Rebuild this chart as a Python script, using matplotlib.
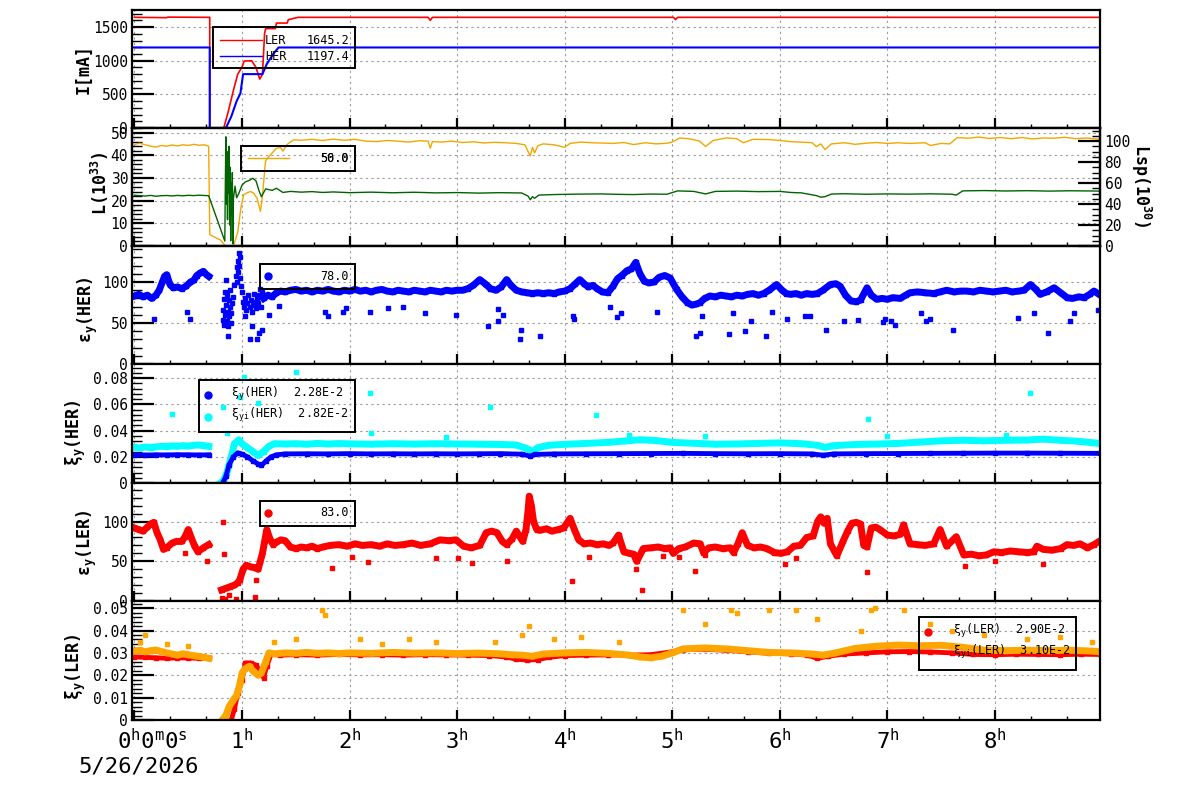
import numpy as np
import matplotlib
matplotlib.use("Agg")
import matplotlib.pyplot as plt
from matplotlib.ticker import MultipleLocator, FixedLocator
from matplotlib.patches import Rectangle
from matplotlib.lines import Line2D

nan = float('nan')

# ---------------- data (hours since 0h0m0s, 5/26/2026) ----------------
hour_ticks = [0, 1, 2, 3, 4, 5, 6, 7, 8]
hour_labels = ['', r'$\mathregular{1^h}$', r'$\mathregular{2^h}$', r'$\mathregular{3^h}$',
               r'$\mathregular{4^h}$', r'$\mathregular{5^h}$', r'$\mathregular{6^h}$',
               r'$\mathregular{7^h}$', r'$\mathregular{8^h}$']

# Panel 1: beam currents [mA]
ler_t = [0.00, 0.30, 0.31, 0.69, 0.70, 0.70, 0.83, 0.87, 0.92, 0.96, 1.00, 1.02, 1.09, 1.13, 1.165,
         1.19, 1.21, 1.22, 1.31, 1.32, 1.42, 1.43, 1.52, 2.73, 2.75, 2.77, 5.01, 5.03, 5.05, 8.98]
ler_i = [1645, 1640, 1648, 1645, 1645, 0, 0, 230, 560, 800, 905, 995, 1000, 900, 727,
         800, 1409, 1478, 1478, 1560, 1560, 1610, 1645, 1645, 1600, 1645, 1645, 1612, 1645, 1645]
her_t = [0.00, 0.70, 0.70, 0.85, 0.90, 0.95, 0.985, 1.01, 1.19, 1.23, 1.27, 1.30, 1.34, 8.98]
her_i = [1197, 1197, 0, 0, 170, 400, 515, 801, 801, 950, 1050, 1120, 1197, 1197]

# Panel 2: luminosity L (left axis) and specific luminosity Lsp (right axis)
lum_t = [0.00, 0.05, 0.10, 0.15, 0.20, 0.25, 0.30, 0.35, 0.40, 0.45, 0.50, 0.55, 0.60, 0.65, 0.69,
         0.70, 0.80, 0.846, 0.92, 0.96, 0.99, 1.016, 1.05, 1.08, 1.11, 1.14, 1.171, 1.19, 1.218,
         1.25, 1.29, 1.32, 1.357, 1.38, 1.42, 1.48, 1.55, 1.65, 1.75, 1.85, 1.95, 2.05, 2.15, 2.25,
         2.35, 2.45, 2.55, 2.65, 2.73, 2.75, 2.77, 2.85, 2.95, 3.05, 3.15, 3.25, 3.35, 3.45, 3.55,
         3.63, 3.66, 3.68, 3.70, 3.72, 3.75, 3.80, 3.90, 4.00, 4.05, 4.15, 4.25, 4.33, 4.45, 4.55,
         4.64, 4.75, 4.85, 4.95, 5.00, 5.07, 5.15, 5.25, 5.31, 5.38, 5.50, 5.60, 5.66, 5.75, 5.90,
         6.00, 6.10, 6.19, 6.30, 6.34, 6.38, 6.42, 6.48, 6.60, 6.70, 6.80, 6.90, 7.00, 7.10, 7.20,
         7.35, 7.40, 7.50, 7.58, 7.65, 7.75, 7.85, 7.95, 8.05, 8.15, 8.25, 8.35, 8.45, 8.55, 8.65,
         8.75, 8.85, 8.98]
lum_v = [44.8, 45.3, 44.6, 44.0, 43.6, 44.3, 44.0, 44.5, 44.1, 44.6, 44.3, 44.8, 44.4, 44.6, 43.9,
         5.0, 2.6, 0.0, 0.0, 6.0, 17.0, 22.6, 23.5, 24.0, 23.2, 21.0, 15.3, 22.0, 37.3,
         39.5, 41.5, 43.0, 43.5, 41.8, 44.8, 46.8, 46.6, 47.0, 46.5, 47.1, 46.6, 47.0, 46.2, 46.0,
         46.5, 46.2, 45.8, 46.4, 46.2, 43.1, 46.0, 45.8, 46.2, 45.6, 45.9, 45.4, 45.7, 45.5, 45.2,
         44.6, 41.5, 39.7, 43.5, 41.0, 44.2, 45.0, 44.6, 43.5, 45.2, 45.8, 45.5, 45.4, 45.2, 45.6,
         44.7, 45.5, 45.0, 45.3, 45.8, 47.6, 47.3, 46.3, 43.9, 46.5, 47.6, 47.3, 45.5, 47.0, 46.9,
         46.5, 46.0, 45.8, 45.5, 43.8, 45.0, 42.5, 45.0, 45.5, 44.8, 45.3, 45.6, 45.2, 45.5, 45.2,
         45.5, 44.3, 45.2, 45.0, 47.8, 47.5, 48.0, 47.4, 47.8, 47.3, 47.8, 47.2, 47.6, 47.5, 47.9,
         47.3, 47.6, 47.0]
lsp_t = [0.00, 0.05, 0.10, 0.15, 0.20, 0.25, 0.30, 0.35, 0.40, 0.45, 0.50, 0.55, 0.60, 0.65, 0.69,
         0.84, 0.845, 0.85, 0.855, 0.86, 0.865, 0.87, 0.875, 0.88, 0.885, 0.89, 0.895, 0.90, 0.905,
         0.91, 0.915, 0.92, 0.935, 0.95, 0.97, 1.00, 1.03, 1.07, 1.10, 1.13, 1.16, 1.18, 1.22, 1.28,
         1.32, 1.38, 1.45, 1.55, 1.65, 1.75, 1.85, 2.00, 2.20, 2.40, 2.60, 2.80, 3.00, 3.20, 3.40,
         3.60, 3.66, 3.68, 3.70, 3.72, 3.76, 3.90, 4.10, 4.33, 4.50, 4.64, 4.80, 4.95, 5.05, 5.20,
         5.31, 5.40, 5.60, 5.80, 6.00, 6.10, 6.20, 6.34, 6.38, 6.42, 6.48, 6.60, 6.80, 7.00, 7.20,
         7.40, 7.60, 7.64, 7.70, 7.90, 8.10, 8.30, 8.50, 8.70, 8.90, 8.98]
lsp_v = [48.3, 48.0, 47.6, 48.2, 47.4, 47.9, 48.1, 47.7, 48.2, 47.8, 48.3, 48.0, 48.4, 48.1, 47.9,
         4.7, 60, 104, 40, 90, 25, 80, 50, 95, 20, 75, 5, 60, 30,
         70, 2, 45, 57, 46, 50, 58, 61, 62.6, 64.5, 62, 52, 47, 54.4, 53,
         55, 51, 52, 51.3, 51.8, 51.0, 51.5, 50.8, 51.3, 50.7, 51.2, 50.6, 50.9, 50.4, 50.8,
         50.5, 47.5, 44.0, 47.0, 45.5, 48.5, 49.0, 49.4, 49.6, 49.2, 49.0, 49.5, 49.3, 52.5, 52.0,
         49.6, 52.0, 52.3, 51.8, 52.0, 51.0, 50.6, 48.0, 46.5, 47.0, 49.5, 49.8, 49.3, 49.6, 49.4,
         49.7, 49.3, 48.5, 52.5, 52.8, 52.4, 52.7, 52.3, 52.6, 52.4, 52.3]

# Panel 3: vertical emittance HER
hemit_t = [0.00, 0.04, 0.08, 0.12, 0.16, 0.20, 0.23, 0.26, 0.28, 0.30, 0.33, 0.36, 0.40, 0.44, 0.48,
           0.52, 0.55, 0.58, 0.61, 0.64, 0.67, 0.69, nan,
           1.20, 1.24, 1.28, 1.32, 1.36, 1.40, 1.45, 1.50, 1.55, 1.60, 1.65, 1.70, 1.75, 1.80, 1.85,
           1.90, 1.95, 2.00, 2.05, 2.10, 2.15, 2.20, 2.25, 2.30, 2.35, 2.40, 2.45, 2.50, 2.55, 2.60,
           2.65, 2.70, 2.75, 2.80, 2.85, 2.90, 2.95, 3.00, 3.05, 3.10, 3.15, 3.21, 3.26, 3.31, 3.36,
           3.41, 3.46, 3.50, 3.55, 3.60, 3.65, 3.70, 3.75, 3.80, 3.85, 3.90, 3.95, 4.00, 4.05, 4.10,
           4.14, 4.18, 4.22, 4.26, 4.30, 4.35, 4.40, 4.45, 4.49, 4.53, 4.58, 4.62, 4.66, 4.70, 4.74,
           4.78, 4.83, 4.88, 4.93, 4.98, 5.04, 5.09, 5.14, 5.18, 5.22, 5.26, 5.30, 5.35, 5.40, 5.45,
           5.50, 5.55, 5.60, 5.65, 5.70, 5.75, 5.80, 5.85, 5.90, 5.97, 6.02, 6.06, 6.10, 6.15, 6.20,
           6.25, 6.30, 6.35, 6.40, 6.47, 6.52, 6.56, 6.61, 6.66, 6.71, 6.75, 6.81, 6.85, 6.90, 6.95,
           7.00, 7.05, 7.12, 7.17, 7.21, 7.28, 7.35, 7.43, 7.49, 7.55, 7.62, 7.68, 7.74, 7.80, 7.86,
           7.92, 7.98, 8.04, 8.10, 8.16, 8.22, 8.27, 8.33, 8.38, 8.42, 8.48, 8.55, 8.61, 8.67, 8.72,
           8.78, 8.83, 8.88, 8.92, 8.98]
hemit_v = [83, 85, 82, 84, 80, 84, 90, 100, 107, 109, 97, 93, 94, 92, 95,
           100, 102, 108, 111, 113, 109, 107, nan,
           80, 84, 82, 87, 89, 88, 90, 91, 89, 90, 88, 90, 89, 91, 89,
           88, 90, 89, 91, 89, 90, 88, 90, 91, 89, 88, 90, 89, 88, 90,
           89, 88, 90, 89, 88, 90, 89, 90, 90, 92, 96, 103, 98, 92, 90,
           94, 103, 96, 90, 88, 87, 86, 87, 86, 87, 86, 88, 89, 92, 98,
           103, 98, 94, 96, 92, 88, 87, 95, 104, 108, 114, 116, 124, 110, 101,
           99, 100, 106, 108, 105, 91, 82, 75, 72, 73, 75, 80, 83, 82, 84,
           83, 82, 84, 83, 85, 86, 84, 86, 90, 97, 90, 86, 85, 86, 84,
           86, 85, 86, 90, 97, 98, 95, 84, 77, 76, 78, 93, 84, 79, 80,
           79, 81, 80, 84, 87, 88, 87, 86, 88, 90, 88, 89, 89, 88, 90,
           89, 88, 89, 90, 88, 89, 90, 97, 91, 85, 88, 93, 87, 81, 80,
           82, 81, 85, 89, 84]
hemit_ev_t = [0.82, 0.82, 0.83, 0.83, 0.84, 0.84, 0.85, 0.85, 0.86, 0.86, 0.87, 0.87, 0.88, 0.88,
              0.89, 0.89, 0.90, 0.90, 0.91, 0.92, 0.93, 0.94, 0.95, 0.95, 0.96, 0.96, 0.97, 0.97,
              0.98, 0.98, 0.99, 1.00, 1.01, 1.02, 1.03, 1.04, 1.05, 1.06, 1.07, 1.08, 1.09, 1.10,
              1.11, 1.12, 1.13, 1.14, 1.15, 1.16, 1.17, 1.18, 1.19]
hemit_ev_v = [66, 54, 79, 48, 88, 60, 72, 103, 52, 84, 64, 46, 78, 58,
              70, 90, 62, 50, 74, 82, 96, 108, 118, 100, 112, 126, 120, 136,
              130, 105, 95, 88, 76, 70, 80, 66, 74, 84, 70, 78, 64, 72,
              86, 76, 68, 80, 74, 84, 92, 70, 88]
hemit_out_t = [0.18, 0.49, 0.52, 0.87, 1.03, 1.07, 1.09, 1.14, 1.16, 1.19, 1.25, 1.34, 1.77, 1.80,
               1.94, 1.97, 2.19, 2.36, 2.50, 2.70, 2.99, 3.29, 3.38, 3.38, 3.43, 3.58, 3.59, 3.77,
               4.08, 4.09, 4.42, 4.49, 4.52, 4.86, 5.22, 5.26, 5.28, 5.53, 5.56, 5.68, 5.73, 5.87,
               5.93, 6.07, 6.23, 6.28, 6.43, 6.60, 6.73, 6.96, 6.98, 7.03, 7.07, 7.31, 7.36, 7.40,
               7.61, 8.21, 8.36, 8.49, 8.70, 8.73, 8.96]
hemit_out_v = [55, 63, 55, 34, 58, 31, 46, 31, 38, 42, 60, 71, 63, 59,
               64, 68, 63, 68, 70, 62, 60, 46, 67, 52, 60, 31, 41, 34,
               59, 55, 70, 57, 62, 63, 34, 38, 58, 37, 62, 40, 52, 34,
               63, 55, 59, 59, 42, 53, 54, 51, 55, 52, 47, 62, 52, 55,
               42, 56, 62, 38, 52, 62, 66]

# Panel 4: vertical beam-beam parameter HER
xih_t = [0.00, 0.10, 0.20, 0.30, 0.40, 0.50, 0.60, 0.69, nan, 0.82, 0.85, 0.88, 0.92, 0.96, 1.00,
         1.05, 1.10, 1.15, 1.18, 1.22, 1.27, 1.32, 1.40, 1.60, 1.80, 2.00, 2.20, 2.40, 2.60, 2.80,
         3.00, 3.20, 3.40, 3.60, 3.68, 3.72, 3.90, 4.20, 4.50, 4.80, 5.10, 5.40, 5.70, 6.00, 6.30,
         6.40, 6.50, 6.80, 7.10, 7.40, 7.70, 8.00, 8.30, 8.60, 8.98]
xih_v = [0.0215, 0.0213, 0.0215, 0.0214, 0.0216, 0.0215, 0.0214, 0.0215, nan, 0.000, 0.005, 0.014,
         0.020, 0.023, 0.022, 0.020, 0.017, 0.0145, 0.0135, 0.0165, 0.020, 0.0215, 0.0222, 0.0223,
         0.0222, 0.0224, 0.0222, 0.0223, 0.0222, 0.0223, 0.0222, 0.0223, 0.0224, 0.0220, 0.0205,
         0.0218, 0.0222, 0.0223, 0.0224, 0.0225, 0.0226, 0.0224, 0.0223, 0.0224, 0.0222, 0.0212,
         0.0222, 0.0224, 0.0225, 0.0226, 0.0227, 0.0228, 0.0228, 0.0227, 0.0226]
xihi_t = [0.00, 0.05, 0.10, 0.15, 0.20, 0.25, 0.30, 0.35, 0.40, 0.45, 0.50, 0.55, 0.60, 0.65, 0.69,
          nan, 0.80, 0.83, 0.86, 0.90, 0.93, 0.97, 1.00, 1.05, 1.10, 1.15, 1.20, 1.25, 1.30, 1.40,
          1.50, 1.60, 1.70, 1.80, 1.90, 2.00, 2.20, 2.40, 2.60, 2.80, 3.00, 3.20, 3.40, 3.55, 3.65,
          3.70, 3.75, 3.85, 4.00, 4.20, 4.40, 4.55, 4.70, 4.85, 5.00, 5.20, 5.40, 5.60, 5.80, 6.00,
          6.20, 6.35, 6.42, 6.50, 6.70, 6.90, 7.10, 7.30, 7.50, 7.70, 7.90, 8.10, 8.30, 8.45, 8.60,
          8.75, 8.90, 8.98]
xihi_v = [0.0272, 0.0268, 0.0275, 0.0270, 0.0276, 0.0280, 0.0278, 0.0283, 0.0280, 0.0285, 0.0282,
          0.0288, 0.0290, 0.0285, 0.0280, nan, 0.000, 0.002, 0.008, 0.020, 0.030, 0.033, 0.030,
          0.027, 0.024, 0.021, 0.024, 0.028, 0.030, 0.0298, 0.0300, 0.0296, 0.0302, 0.0298, 0.0301,
          0.0299, 0.0296, 0.0300, 0.0297, 0.0300, 0.0298, 0.0296, 0.0294, 0.0290, 0.0262, 0.0240,
          0.0270, 0.0288, 0.0295, 0.0302, 0.0310, 0.0320, 0.0330, 0.0324, 0.0310, 0.0303, 0.0296,
          0.0298, 0.0302, 0.0306, 0.0300, 0.0288, 0.0272, 0.0285, 0.0294, 0.0297, 0.0302, 0.0312,
          0.0322, 0.0326, 0.0322, 0.0326, 0.0328, 0.0335, 0.0326, 0.0320, 0.0308, 0.0302]
xihi_out_t = [0.35, 0.82, 0.98, 1.02, 1.15, 1.50, 2.19, 2.20, 3.31, 4.29, 6.82, 8.33, 0.86, 2.90,
              4.60, 5.30, 7.00, 8.10]
xihi_out_v = [0.053, 0.058, 0.066, 0.081, 0.061, 0.085, 0.069, 0.038, 0.058, 0.052, 0.049, 0.069,
              0.038, 0.035, 0.037, 0.036, 0.036, 0.037]

# Panel 5: vertical emittance LER
lemit_t = [0.00, 0.04, 0.08, 0.12, 0.15, 0.18, 0.21, 0.24, 0.27, 0.30, 0.35, 0.39, 0.44, 0.47, 0.50,
           0.53, 0.56, 0.59, 0.64, 0.69, nan,
           0.81, 0.85, 0.89, 0.93, 0.96, 0.98, 1.01, 1.04, 1.08, 1.12, 1.15, 1.17, 1.19, 1.21, 1.23,
           1.26, 1.29, 1.32, 1.36, 1.40, 1.45, 1.50, 1.55, 1.60, 1.65, 1.70, 1.75, 1.82, 1.90, 1.98,
           2.05, 2.12, 2.20, 2.28, 2.35, 2.42, 2.50, 2.58, 2.66, 2.75, 2.84, 2.92, 2.99, 3.06, 3.13,
           3.21, 3.27, 3.32, 3.37, 3.42, 3.46, 3.51, 3.55, 3.61, 3.64, 3.66, 3.67, 3.69, 3.71, 3.74,
           3.77, 3.83, 3.88, 3.94, 3.99, 4.02, 4.05, 4.09, 4.13, 4.18, 4.24, 4.30, 4.36, 4.41, 4.45,
           4.50, 4.55, 4.60, 4.64, 4.67, 4.73, 4.80, 4.87, 4.93, 4.98, 5.01, 5.06, 5.12, 5.20, 5.26,
           5.29, 5.34, 5.40, 5.47, 5.54, 5.57, 5.61, 5.65, 5.70, 5.76, 5.82, 5.88, 5.95, 6.01, 6.07,
           6.13, 6.19, 6.25, 6.31, 6.35, 6.38, 6.41, 6.44, 6.47, 6.53, 6.59, 6.63, 6.67, 6.71, 6.75,
           6.78, 6.81, 6.85, 6.89, 6.93, 7.00, 7.06, 7.12, 7.15, 7.21, 7.28, 7.35, 7.43, 7.49, 7.55,
           7.64, 7.71, 7.78, 7.85, 7.92, 7.99, 8.06, 8.14, 8.22, 8.30, 8.36, 8.39, 8.45, 8.53, 8.61,
           8.67, 8.73, 8.79, 8.86, 8.92, 8.98]
lemit_v = [92, 90, 88, 93, 97, 99, 86, 77, 65, 67, 73, 75, 75, 81, 90,
           79, 69, 62, 67, 71, nan,
           14, 16, 18, 20, 23, 27, 40, 45, 43, 42, 40, 50, 60, 75, 90,
           78, 71, 74, 77, 76, 68, 66, 68, 67, 69, 66, 68, 70, 71, 69,
           72, 70, 71, 69, 72, 70, 71, 73, 70, 72, 77, 76, 77, 69, 67,
           70, 86, 88, 86, 75, 71, 78, 88, 75, 90, 115, 132, 120, 100, 90,
           89, 91, 88, 90, 92, 98, 104, 90, 77, 72, 73, 71, 72, 70, 73,
           83, 62, 60, 59, 50, 66, 67, 68, 66, 67, 60, 66, 68, 73, 72,
           61, 67, 68, 66, 67, 61, 72, 86, 70, 67, 68, 66, 61, 60, 62,
           69, 70, 80, 82, 100, 106, 98, 104, 72, 57, 76, 88, 98, 99, 97,
           70, 68, 92, 93, 90, 83, 82, 84, 96, 72, 71, 70, 72, 90, 69,
           81, 58, 59, 57, 58, 62, 61, 63, 62, 61, 62, 69, 65, 64, 66,
           71, 70, 72, 67, 71, 76]
lemit_out_t = [0.82, 0.83, 0.81, 0.84, 0.88, 0.94, 1.12, 1.13, 0.67, 0.47, 1.84, 2.17, 2.02, 2.80,
               3.01, 3.14, 3.46, 4.07, 4.23, 4.66, 4.72, 5.21, 5.30, 5.06, 4.91, 6.05, 6.15, 6.81,
               7.72, 8.00, 8.45]
lemit_out_v = [99, 59, 4, 3, 7, 3, 5, 27, 51, 60, 41, 49, 55, 54,
               54, 48, 51, 25, 56, 40, 14, 38, 58, 56, 57, 46, 54, 37,
               44, 51, 47]

# Panel 6: vertical beam-beam parameter LER
xil_t = [0.00, 0.10, 0.20, 0.30, 0.40, 0.50, 0.60, 0.69, nan, 0.90, 0.93, 0.96, 1.00, 1.03, 1.08,
         1.13, 1.18, 1.20, 1.23, 1.27, 1.35, 1.50, 1.70, 1.90, 2.10, 2.30, 2.50, 2.70, 2.90, 3.10,
         3.30, 3.45, 3.55, 3.65, 3.75, 3.85, 4.00, 4.20, 4.40, 4.60, 4.80, 5.00, 5.10, 5.30, 5.50,
         5.70, 5.90, 6.10, 6.25, 6.35, 6.45, 6.60, 6.80, 7.00, 7.20, 7.40, 7.60, 7.80, 8.00, 8.20,
         8.40, 8.60, 8.80, 8.98]
xil_v = [0.0282, 0.0280, 0.0278, 0.0276, 0.0278, 0.0277, 0.0276, 0.0277, nan, 0.000, 0.005, 0.012,
         0.018, 0.0255, 0.0255, 0.0245, 0.021, 0.019, 0.024, 0.0295, 0.0290, 0.0292, 0.0290, 0.0293,
         0.0291, 0.0292, 0.0290, 0.0292, 0.0291, 0.0290, 0.0288, 0.0282, 0.0272, 0.0268, 0.0270,
         0.0280, 0.0288, 0.0290, 0.0291, 0.0290, 0.0292, 0.0305, 0.0315, 0.0316, 0.0312, 0.0305,
         0.0298, 0.0296, 0.0290, 0.0276, 0.0285, 0.0295, 0.0300, 0.0305, 0.0306, 0.0304, 0.0300,
         0.0293, 0.0292, 0.0294, 0.0293, 0.0292, 0.0294, 0.0293]
xili_t = [0.00, 0.05, 0.10, 0.15, 0.20, 0.25, 0.30, 0.35, 0.40, 0.45, 0.50, 0.55, 0.60, 0.65, 0.69,
          nan, 0.815, 0.85, 0.88, 0.92, 0.95, 0.98, 1.00, 1.03, 1.07, 1.10, 1.15, 1.18, 1.22, 1.25,
          1.30, 1.40, 1.50, 1.60, 1.70, 1.80, 1.90, 2.00, 2.20, 2.40, 2.60, 2.80, 3.00, 3.20, 3.40,
          3.50, 3.60, 3.70, 3.80, 4.00, 4.20, 4.40, 4.60, 4.70, 4.80, 4.90, 5.00, 5.10, 5.30, 5.50,
          5.70, 5.90, 6.10, 6.30, 6.40, 6.50, 6.70, 6.90, 7.10, 7.30, 7.50, 7.70, 7.90, 8.10, 8.30,
          8.50, 8.70, 8.90, 8.98]
xili_v = [0.0308, 0.0312, 0.0305, 0.0310, 0.0313, 0.0306, 0.0300, 0.0295, 0.0290, 0.0296, 0.0292,
          0.0288, 0.0284, 0.0280, 0.0276, nan, 0.000, 0.002, 0.006, 0.009, 0.011, 0.016, 0.021,
          0.023, 0.024, 0.022, 0.020, 0.021, 0.026, 0.030, 0.0296, 0.0300, 0.0298, 0.0302, 0.0298,
          0.0300, 0.0297, 0.0300, 0.0298, 0.0302, 0.0299, 0.0300, 0.0297, 0.0299, 0.0296, 0.0292,
          0.0290, 0.0285, 0.0295, 0.0300, 0.0302, 0.0298, 0.0290, 0.0282, 0.0278, 0.0285, 0.0300,
          0.0318, 0.0322, 0.0318, 0.0310, 0.0302, 0.0300, 0.0295, 0.0290, 0.0298, 0.0320, 0.0330,
          0.0335, 0.0332, 0.0334, 0.0325, 0.0312, 0.0310, 0.0312, 0.0310, 0.0312, 0.0308, 0.0305]
xili_out_t = [0.05, 0.10, 0.30, 0.50, 1.30, 1.50, 1.74, 1.77, 2.10, 2.30, 2.55, 2.80, 3.35, 3.60,
              3.67, 3.90, 4.15, 4.50, 5.10, 5.30, 5.55, 5.60, 5.90, 6.15, 6.35, 6.75, 6.85, 6.88,
              7.15, 7.40, 7.60, 7.90, 8.30, 8.60, 8.90]
xili_out_v = [0.035, 0.038, 0.034, 0.033, 0.035, 0.036, 0.049, 0.047, 0.036, 0.034, 0.036, 0.035,
              0.035, 0.038, 0.042, 0.036, 0.037, 0.035, 0.049, 0.043, 0.049, 0.048, 0.049, 0.049,
              0.045, 0.040, 0.049, 0.050, 0.049, 0.043, 0.040, 0.038, 0.036, 0.037, 0.035]

# legend values
leg_cur = [('LER', '1645.2'), ('HER', '1197.4')]
leg_lum = ['50.0', '56.0']
leg_hemit = '78.0'
leg_lemit = '83.0'
leg_xih = ['2.28E-2', '2.82E-2']
leg_xil = ['2.90E-2', '3.10E-2']

# ---------------- styling ----------------
plt.rcParams['font.family'] = ['DejaVu Sans Mono', 'DejaVu Sans']
plt.rcParams['mathtext.fontset'] = 'custom'
plt.rcParams['mathtext.rm'] = 'DejaVu Sans Mono'
plt.rcParams['mathtext.it'] = 'DejaVu Sans Mono'
plt.rcParams['mathtext.bf'] = 'DejaVu Sans Mono:bold'

W, H = 1200, 798
fig = plt.figure(figsize=(W / 100, H / 100), dpi=100)


def fx(p):
    return p / W


def fy(p):
    return 1 - p / H


X0, X1 = 132.3, 1100.4
XLIM = (-0.02, 8.98)
edges = [10, 128, 246, 364, 483, 601, 720]
axes = [fig.add_axes([fx(X0), fy(edges[i + 1]), fx(X1) - fx(X0), (edges[i + 1] - edges[i]) / H])
        for i in range(6)]

GRID = dict(color='#9c9c9c', linestyle=(0, (2, 3)), linewidth=0.8)


def style(ax, ymax, ticks, labels, minor, bottom=False):
    ax.set_xlim(*XLIM)
    ax.set_ylim(0, ymax)
    ax.xaxis.set_major_locator(FixedLocator(hour_ticks))
    ax.xaxis.set_minor_locator(MultipleLocator(1 / 3))
    ax.set_yticks(ticks)
    ax.set_yticklabels(labels)
    ax.yaxis.set_minor_locator(MultipleLocator(minor))
    ax.tick_params(axis='y', which='major', direction='in', length=16, width=1.6,
                   labelsize=10.5, pad=3, right=False)
    ax.tick_params(axis='y', which='minor', direction='in', length=7, width=1.0, right=False)
    ax.tick_params(axis='x', which='major', direction='in', length=7, width=1.6, top=False,
                   labelbottom=bottom, labelsize=16, pad=6)
    ax.tick_params(axis='x', which='minor', direction='in', length=3, width=1.0, top=False)
    for sp in ax.spines.values():
        sp.set_linewidth(1.6)
    ax.grid(True, which='major', **GRID)


style(axes[0], 1754, [0, 500, 1000, 1500], ['0', '500', '1000', '1500'], 100)
style(axes[1], 52.0, [0, 10, 20, 30, 40, 50], ['0', '10', '20', '30', '40', '50'], 2)
style(axes[2], 144, [0, 50, 100], ['0', '50', '100'], 10)
style(axes[3], 0.0908, [0, 0.02, 0.04, 0.06, 0.08], ['0', '0.02', '0.04', '0.06', '0.08'], 0.004)
style(axes[4], 148.6, [0, 50, 100], ['0', '50', '100'], 10)
style(axes[5], 0.0532, [0, 0.01, 0.02, 0.03, 0.04, 0.05],
      ['0', '0.01', '0.02', '0.03', '0.04', '0.05'], 0.002, bottom=True)
axes[5].set_xticklabels(hour_labels)

# Panel 1
axes[0].plot(ler_t, ler_i, color='#ff0000', lw=1.2)
axes[0].plot(her_t, her_i, color='#0000ff', lw=1.5)

# Panel 2
YEL = '#f0a800'
GRN = '#006400'
axes[1].plot(lum_t, lum_v, color=YEL, lw=1.0)
ax2r = axes[1].twinx()
ax2r.set_ylim(0, 112.4)
ax2r.set_yticks([0, 20, 40, 60, 80, 100])
ax2r.yaxis.set_minor_locator(MultipleLocator(5))
ax2r.tick_params(axis='y', which='major', direction='in', length=16, width=1.6, labelsize=10.5, pad=3)
ax2r.tick_params(axis='y', which='minor', direction='in', length=6, width=1.0)
for sp in ax2r.spines.values():
    sp.set_linewidth(1.6)
ax2r.plot(lsp_t, lsp_v, color=GRN, lw=1.0)

# Panel 3
BL = '#0000ff'
axes[2].plot(hemit_t, hemit_v, color=BL, lw=5, marker='s', ms=3)
axes[2].plot(hemit_ev_t, hemit_ev_v, ls='none', color=BL, marker='s', ms=3)
axes[2].plot(hemit_out_t, hemit_out_v, ls='none', color=BL, marker='s', ms=3)

# Panel 4
CY = '#00ffff'
axes[3].plot(xihi_t, xihi_v, color=CY, lw=5, marker='s', ms=2.5)
axes[3].plot(xihi_out_t, xihi_out_v, ls='none', color=CY, marker='s', ms=2.5)
axes[3].plot(xih_t, xih_v, color=BL, lw=3.5, marker='s', ms=2.5)

# Panel 5
RD = '#ff0000'
axes[4].plot(lemit_t, lemit_v, color=RD, lw=5, marker='s', ms=3)
axes[4].plot(lemit_out_t, lemit_out_v, ls='none', color=RD, marker='s', ms=3)

# Panel 6
OR = '#ffa500'
axes[5].plot(xil_t, xil_v, color=RD, lw=3.5, marker='s', ms=2.5)
axes[5].plot(xili_t, xili_v, color=OR, lw=5, marker='s', ms=2.5)
axes[5].plot(xili_out_t, xili_out_v, ls='none', color=OR, marker='s', ms=2.5)

# ---------------- labels ----------------
ylab = dict(fontsize=12, fontweight='bold', rotation=90, ha='center', va='center')
fig.text(fx(84), fy(69), 'I[mA]', **ylab)
fig.text(fx(100), fy(183), r'$\mathregular{L(10^{33})}$', **ylab)
fig.text(fx(88), fy(310), r'$\mathregular{ε_{y}(HER)}$', **ylab)
fig.text(fx(76), fy(433), r'$\mathregular{ξ_{y}(HER)}$', **ylab)
fig.text(fx(87), fy(543), r'$\mathregular{ε_{y}(LER)}$', **ylab)
fig.text(fx(76), fy(667), r'$\mathregular{ξ_{y}(LER)}$', **ylab)
fig.text(fx(1141), fy(186), r'$\mathregular{Lsp(10^{30})}$', fontsize=12, fontweight='bold',
         rotation=-90, ha='center', va='center')

fig.text(fx(117), fy(728), r'$\mathregular{0^h0^m0^s}$', fontsize=16, ha='left', va='top')
fig.text(fx(78), fy(757), '5/26/2026', fontsize=16, ha='left', va='top')

# ---------------- legends ----------------
LFS = 8.5


def box(x0, y0, x1, y1):
    fig.add_artist(Rectangle((fx(x0), fy(y1)), fx(x1) - fx(x0), fy(y0) - fy(y1),
                             transform=fig.transFigure, fill=False, lw=1.4, ec='black', zorder=20))


def fline(x0, x1, py, color):
    fig.add_artist(Line2D([fx(x0), fx(x1)], [fy(py), fy(py)], transform=fig.transFigure,
                          color=color, lw=1.0, zorder=20))


def fdot(px, py, color):
    fig.add_artist(Line2D([fx(px)], [fy(py)], transform=fig.transFigure, ls='none',
                          marker='o', ms=5, color=color, zorder=20))


def ftext(px, py, s, ha='left'):
    fig.text(fx(px), fy(py), s, fontsize=LFS, ha=ha, va='center', zorder=21)


# panel 1
box(213, 27, 355, 68)
fline(220, 262, 40, RD)
fline(220, 262, 56, BL)
ftext(265, 40, leg_cur[0][0])
ftext(265, 56, leg_cur[1][0])
ftext(349, 40, leg_cur[0][1], ha='right')
ftext(349, 56, leg_cur[1][1], ha='right')
# panel 2
box(241, 146, 355, 171)
fline(248, 289, 158, YEL)
ftext(349, 158, leg_lum[1], ha='right')
ftext(349, 158, leg_lum[0], ha='right')
# panel 3
box(260, 264, 355, 289)
fdot(268, 276, BL)
ftext(349, 276, leg_hemit, ha='right')
# panel 4
box(199, 380, 355, 432)
fdot(208, 395, BL)
fdot(208, 417, CY)
ftext(231, 394, r'$\mathregular{ξ_{y}}$(HER)  ' + leg_xih[0])
ftext(231, 415, r'$\mathregular{ξ_{yi}}$(HER)  ' + leg_xih[1])
# panel 5
box(260, 501, 355, 526)
fdot(268, 513, RD)
ftext(349, 513, leg_lemit, ha='right')
# panel 6
box(919, 617, 1076, 670)
fdot(928, 632, RD)
ftext(953, 631, r'$\mathregular{ξ_{y}}$(LER)  ' + leg_xil[0])
ftext(953, 652, r'$\mathregular{ξ_{yi}}$(LER)  ' + leg_xil[1])

fig.savefig('out.png', dpi=100)
